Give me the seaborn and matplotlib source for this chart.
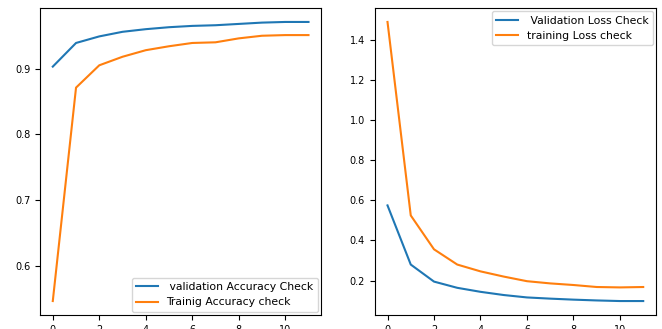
import matplotlib
matplotlib.use("Agg")
import matplotlib.pyplot as plt
import seaborn as sns
import pandas as pd

epochs = list(range(12))
val_acc = [0.903, 0.939, 0.949, 0.956, 0.960, 0.963, 0.965, 0.966, 0.968, 0.970, 0.971, 0.971]
train_acc = [0.546, 0.871, 0.905, 0.918, 0.928, 0.934, 0.939, 0.940, 0.946, 0.950, 0.951, 0.951]
val_loss = [0.575, 0.280, 0.195, 0.164, 0.144, 0.128, 0.116, 0.110, 0.105, 0.101, 0.098, 0.098]
train_loss = [1.490, 0.525, 0.356, 0.280, 0.246, 0.220, 0.197, 0.186, 0.178, 0.168, 0.166, 0.168]

plt.rcParams['font.family'] = ['DejaVu Sans']
fig, axs = plt.subplots(1, 2, figsize=(6.62, 3.29), dpi=100)
fig.subplots_adjust(left=40/662, right=656/662, bottom=14/329, top=321/329, wspace=0.19)

ax = axs[0]
sns.lineplot(x=epochs, y=val_acc, ax=ax, color='C0', label=' validation Accuracy Check')
sns.lineplot(x=epochs, y=train_acc, ax=ax, color='C1', label='Trainig Accuracy check')
ax.legend(loc='lower right', fontsize=7.8, borderaxespad=0.3)

ax = axs[1]
sns.lineplot(x=epochs, y=val_loss, ax=ax, color='C0', label=' Validation Loss Check')
sns.lineplot(x=epochs, y=train_loss, ax=ax, color='C1', label='training Loss check')
ax.legend(loc='upper right', fontsize=7.8, borderaxespad=0.3)

for ax in axs:
    ax.tick_params(labelsize=7)
    ax.set_xticks([0, 2, 4, 6, 8, 10])

fig.savefig("out.png", dpi=100)
